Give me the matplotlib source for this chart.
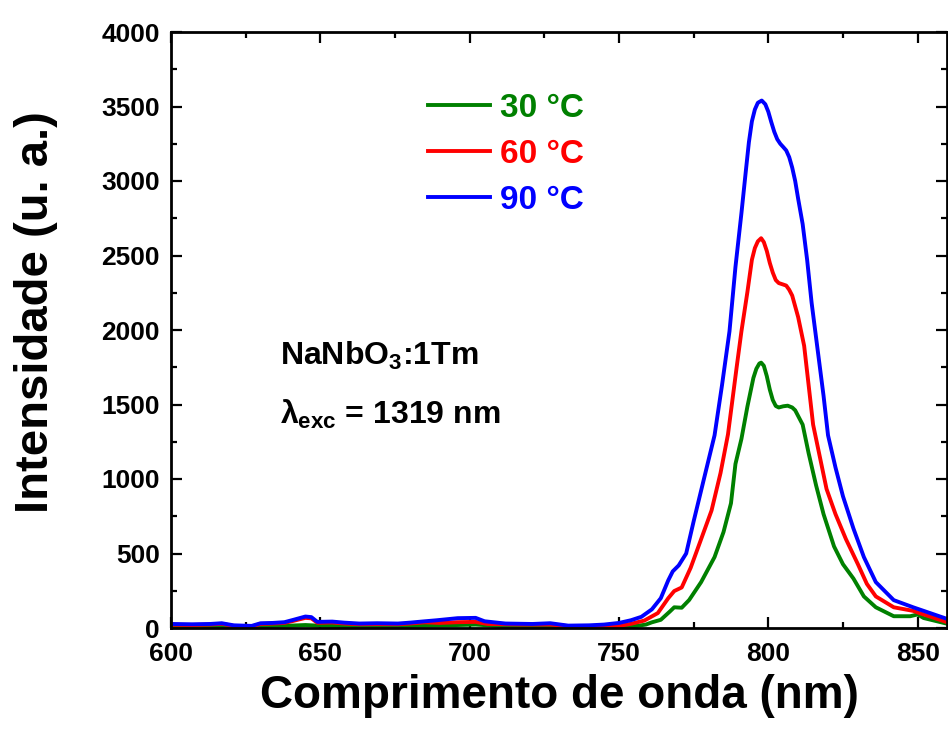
import numpy as np
import matplotlib
matplotlib.use('Agg')
import matplotlib.pyplot as plt
from matplotlib.ticker import MultipleLocator

plt.rcParams['font.family'] = ['Liberation Sans', 'DejaVu Sans']
plt.rcParams['font.weight'] = 'bold'
plt.rcParams['mathtext.fontset'] = 'custom'
plt.rcParams['mathtext.rm'] = 'Liberation Sans:bold'
plt.rcParams['mathtext.it'] = 'Liberation Sans:bold'
plt.rcParams['mathtext.bf'] = 'Liberation Sans:bold'

# 90 °C
wl_90 = [600, 607, 613, 617, 621, 627, 630, 634, 638, 641, 645, 647, 649, 654, 658, 663,
         669, 676, 680, 685, 689, 696, 702, 705, 712, 721, 727, 733, 740, 745, 750, 754,
         757.5, 761, 764, 766.5, 768, 770, 772.5, 775, 778.5, 782, 784.5, 787, 789, 791,
         792.5, 793.5, 794.5, 795.5, 796.5, 797.8, 799, 800, 801, 802, 803, 804, 805, 806,
         807, 808, 809, 810, 811.5, 813, 814.5, 816.5, 818.5, 820, 822.5, 825, 828.5, 832,
         836, 842, 848.5, 852, 860]
I_90 = [27, 25, 27, 32, 18, 14, 32, 34, 39, 55, 77, 73, 41, 43, 36, 30,
        32, 30, 36, 45, 52, 66, 68, 45, 30, 27, 32, 16, 18, 23, 34, 52,
        75, 125, 200, 320, 380, 420, 500, 716, 1005, 1293, 1630, 1991, 2423, 2784,
        3072, 3260, 3400, 3480, 3525, 3540, 3515, 3465, 3395, 3330, 3280, 3250, 3228, 3205,
        3160, 3090, 3000, 2880, 2711, 2471, 2183, 1870, 1558, 1293, 1077, 884, 668, 476,
        308, 187, 139, 115, 60]

# 60 °C
wl_60 = [600, 607, 613, 617, 621, 627, 630, 634, 638, 641, 645, 647, 649, 654, 658, 663,
         669, 676, 680, 685, 690, 696, 702, 706, 712, 718, 727, 734, 745, 750, 754, 758.5,
         763, 766.5, 768.5, 771, 774, 777.5, 781, 784, 786.5, 789.4, 791, 793, 794.5, 795.5,
         796.5, 797.6, 798.5, 799.5, 800.5, 801.5, 802.5, 803.5, 805, 806, 807, 808, 810, 812,
         813.5, 815, 817.5, 819.5, 822.5, 826, 830, 833, 836, 842, 848.5, 852, 860]
I_60 = [22, 20, 23, 28, 14, 10, 27, 30, 34, 48, 68, 65, 35, 37, 30, 25,
        26, 25, 30, 38, 34, 39, 41, 27, 25, 23, 23, 11, 14, 14, 28, 50,
        100, 200, 248, 272, 404, 596, 789, 1040, 1300, 1750, 1991, 2255, 2471, 2550,
        2595, 2616, 2590, 2530, 2450, 2385, 2335, 2315, 2305, 2298, 2270, 2231, 2086, 1894,
        1630, 1365, 1125, 933, 764, 596, 428, 296, 212, 139, 115, 91, 38]

# 30 °C
wl_30 = [600, 610, 620, 630, 640, 645, 650, 660, 670, 680, 690, 696, 702, 712, 722, 734,
         745, 752, 756, 759, 761, 764, 767, 768.5, 771, 773.5, 777.5, 782, 785, 787.5,
         789, 791, 793, 795, 796, 797, 797.6, 798.5, 799.5, 800.5, 801.5, 802.5, 803.5, 805,
         806.5, 808, 809, 811.5, 813.5, 816, 818.5, 822, 825, 828.5, 832, 836, 842, 847.5,
         850, 852, 860]
I_30 = [12, 14, 8, 12, 16, 20, 15, 12, 12, 14, 18, 20, 23, 11, 10, 7,
        8, 9, 14, 23, 38, 55, 110, 139, 136, 188, 308, 476, 644, 837,
        1101, 1269, 1486, 1678, 1740, 1775, 1781, 1760, 1690, 1600, 1530, 1490, 1480, 1488,
        1492, 1480, 1461, 1365, 1173, 957, 764, 548, 428, 332, 212, 139, 79, 79,
        91, 67, 28]

labels = ['30 °C', '60 °C', '90 °C']
colors = ['#008000', '#ff0000', '#0000ff']

fig = plt.figure(figsize=(9.48, 7.38), dpi=100)
ax = fig.add_axes([171 / 948, 1 - 628 / 738, 776.5 / 948, 596 / 738])

for wl, inten, lab, c in zip([wl_30, wl_60, wl_90], [I_30, I_60, I_90], labels, colors):
    ax.plot(wl, inten, color=c, linewidth=2.8, label=lab)

ax.set_xlim(600, 860)
ax.set_ylim(0, 4000)
ax.xaxis.set_major_locator(MultipleLocator(50))
ax.xaxis.set_minor_locator(MultipleLocator(25))
ax.yaxis.set_major_locator(MultipleLocator(500))
ax.yaxis.set_minor_locator(MultipleLocator(250))
ax.tick_params(which='both', direction='in', top=True, right=True, width=1.6, labelsize=19)
ax.tick_params(which='major', length=8)
ax.tick_params(which='minor', length=4.5)
ax.tick_params(axis='x', pad=10)
ax.tick_params(axis='y', pad=8)
for s in ax.spines.values():
    s.set_linewidth(2)

ax.set_xlabel('Comprimento de onda (nm)', fontsize=33, fontweight='bold', labelpad=6)
ax.set_ylabel('Intensidade (u. a.)', fontsize=34, fontweight='bold')
ax.yaxis.set_label_coords(-0.146, 0.53)

leg = ax.legend(loc='upper left', bbox_to_anchor=(0.331, 0.898), frameon=False,
                fontsize=24, labelcolor='linecolor', handlelength=1.86,
                handletextpad=0.3, labelspacing=0.45, borderpad=0, borderaxespad=0)

ax.text(0.140, 0.441, 'NaNbO$_3$:1Tm', transform=ax.transAxes, fontsize=23,
        fontweight='bold', va='baseline')
ax.text(0.140, 0.342, r'$\lambda_{exc}$ = 1319 nm', transform=ax.transAxes, fontsize=23,
        fontweight='bold', va='baseline')

fig.savefig('out.png', dpi=100)
